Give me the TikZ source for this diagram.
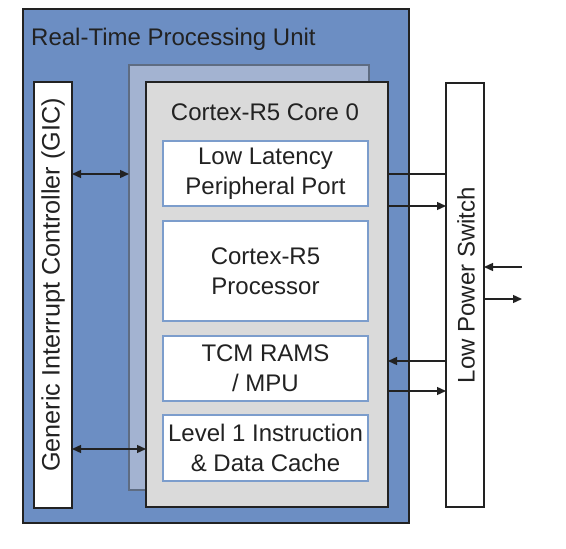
\documentclass[tikz,border=0pt]{standalone}
\usepackage{fontspec}
\setmainfont{Liberation Sans}
\usetikzlibrary{arrows.meta}
\definecolor{rpublue}{HTML}{6C8EC3}
\definecolor{backcore}{HTML}{A3B3D1}
\definecolor{backedge}{HTML}{5E6C82}
\definecolor{coregray}{HTML}{DADADA}
\definecolor{inneredge}{HTML}{7C9DCC}
\definecolor{ink}{HTML}{222222}
\tikzset{
  box/.style={rectangle, inner sep=0pt, outer sep=0pt},
  txt/.style={font=\fontsize{24}{30}\selectfont, text=ink},
  innerbox/.style={box, fill=white, draw=inneredge, line width=1.8pt, minimum width=205pt, align=center, txt},
  whitebar/.style={box, fill=white, draw=ink, line width=1.8pt, minimum width=38pt},
  conn/.style={draw=ink, line width=1.4pt},
  tip/.style={-{Triangle[length=9pt,width=8pt]}},
  dtip/.style={{Triangle[length=9pt,width=8pt]}-{Triangle[length=9pt,width=8pt]}},
}
\begin{document}
\begin{tikzpicture}[x=1pt,y=-1pt]
\useasboundingbox (0,0) rectangle (566,549);
\node[box, fill=rpublue, draw=ink, line width=1.8pt, minimum width=386pt, minimum height=514pt] (rpu) at (216,266) {};
\node[txt, anchor=base west, inner sep=0pt] (rputitle) at (31,45) {Real-Time Processing Unit};
\node[box, fill=backcore, draw=backedge, line width=1.6pt, minimum width=240pt, minimum height=425pt] (back) at (249,277.5) {};
\node[box, fill=coregray, draw=ink, line width=2.2pt, minimum width=242pt, minimum height=425pt] (core) at (267,294.5) {};
\node[txt, anchor=base, inner sep=0pt] (coretitle) at (265,120) {Cortex-R5 Core 0};
\node[innerbox, minimum height=65pt] (llpp) at (265.5,173.5) {Low Latency\\Peripheral Port};
\node[innerbox, minimum height=100pt] (proc) at (265.5,271) {Cortex-R5\\Processor};
\node[innerbox, minimum height=65pt] (tcm) at (265.5,368.5) {TCM RAMS\\/ MPU};
\node[innerbox, minimum height=66pt] (lone) at (265.5,448) {Level 1 Instruction\\\& Data Cache};
\node[whitebar, minimum height=426pt] (gic) at (53,295) {};
\node[txt, font=\fontsize{25.2}{30}\selectfont, rotate=90] (gictext) at (53,285) {Generic Interrupt Controller (GIC)};
\node[whitebar, minimum height=424pt] (lps) at (465,295) {};
\node[txt, rotate=90] (lpstext) at (466,285) {Low Power Switch};
\coordinate (ya) at (0,174);
\coordinate (yb) at (0,206);
\coordinate (yc) at (0,361);
\coordinate (yd) at (0,391);
\coordinate (ye) at (0,449);
\coordinate (ext1) at (522,267);
\coordinate (ext2) at (522,299);
\draw[conn, dtip] (gic.east |- ya) -- (back.west |- ya);
\draw[conn, dtip] (gic.east |- ye) -- (core.west |- ye);
\draw[conn] (core.east |- ya) -- (lps.west |- ya);
\draw[conn, tip] (core.east |- yb) -- (lps.west |- yb);
\draw[conn, tip] (lps.west |- yc) -- (core.east |- yc);
\draw[conn, tip] (core.east |- yd) -- (lps.west |- yd);
\draw[conn, tip] (ext1) -- (lps.east |- ext1);
\draw[conn, tip] (lps.east |- ext2) -- (ext2);
\end{tikzpicture}
\end{document}
